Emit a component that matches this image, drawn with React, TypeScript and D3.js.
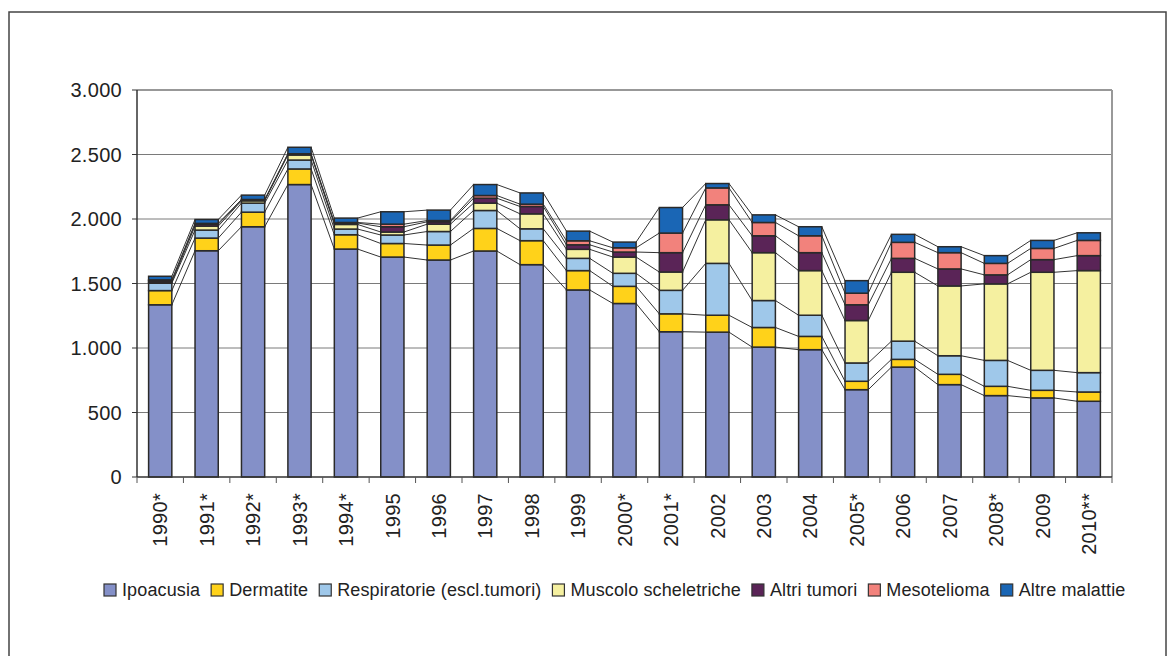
import React, { useEffect, useRef } from 'react'
import * as d3 from 'd3'

const years = [
  '1990*', '1991*', '1992*', '1993*', '1994*', '1995', '1996', '1997', '1998', '1999', '2000*',
  '2001*', '2002', '2003', '2004', '2005*', '2006', '2007', '2008*', '2009', '2010**',
]

const seriesNames = [
  'Ipoacusia',
  'Dermatite',
  'Respiratorie (escl.tumori)',
  'Muscolo scheletriche',
  'Altri tumori',
  'Mesotelioma',
  'Altre malattie',
]

const seriesColors = ['#8490c8', '#ffd21a', '#9fc8ea', '#f5f0a0', '#5a2457', '#f2827c', '#1a66b5']

const ipoacusia = [1335, 1754, 1940, 2267, 1767, 1705, 1682, 1752, 1646, 1450, 1345, 1126, 1123, 1007, 987, 677, 852, 716, 631, 613, 587]
const dermatite = [110, 98, 113, 121, 111, 105, 116, 175, 186, 150, 133, 139, 131, 152, 103, 65, 60, 80, 72, 59, 72]
const respiratorie = [57, 62, 70, 69, 44, 66, 105, 139, 92, 95, 101, 182, 402, 209, 164, 142, 141, 144, 201, 155, 150]
const muscolo = [8, 31, 18, 39, 36, 23, 57, 57, 116, 70, 126, 142, 338, 371, 346, 329, 534, 541, 593, 760, 791]
const altriTumori = [12, 14, 6, 6, 11, 41, 18, 38, 57, 35, 39, 150, 116, 131, 139, 122, 108, 132, 70, 98, 116]
const mesotelioma = [6, 7, 4, 4, 4, 20, 10, 21, 18, 31, 33, 152, 131, 103, 131, 90, 124, 126, 89, 87, 118]
const altreMalattie = [28, 30, 34, 50, 34, 96, 81, 85, 87, 75, 44, 198, 34, 59, 70, 97, 62, 46, 60, 62, 59]

const yTicks = [0, 500, 1000, 1500, 2000, 2500, 3000]

const FONT = '"Liberation Sans", Arial, sans-serif'

const App = () => {
  const refSvg = useRef(null)

  useEffect(() => {
    const left = 137
    const right = 1112
    const top = 90
    const bottom = 477

    const svg = d3.select(refSvg.current)
    svg.selectAll('*').remove()

    // outer frame
    svg
      .append('rect')
      .attr('x', 9)
      .attr('y', 12)
      .attr('width', 1157)
      .attr('height', 700)
      .attr('fill', 'white')
      .attr('stroke', '#444')
      .attr('stroke-width', 1.5)

    const cols = [ipoacusia, dermatite, respiratorie, muscolo, altriTumori, mesotelioma, altreMalattie]
    const table = years.map((y, i) => {
      const row: any = { year: y }
      seriesNames.forEach((s, k) => (row[s] = cols[k][i]))
      return row
    })
    const stacked = d3.stack().keys(seriesNames)(table)

    const x = d3.scaleBand().domain(years).range([left, right]).paddingInner(0.5).paddingOuter(0.25)
    const y = d3.scaleLinear().domain([0, 3000]).range([bottom, top])
    const fmt = d3.formatLocale({ decimal: ',', thousands: '.', grouping: [3], currency: ['', ''] }).format(',')

    // gridlines
    svg
      .append('g')
      .selectAll('line')
      .data(yTicks.filter((t) => t > 0 && t < 3000))
      .enter()
      .append('line')
      .attr('x1', left)
      .attr('x2', right)
      .attr('y1', (d) => y(d))
      .attr('y2', (d) => y(d))
      .attr('stroke', '#7a7a7a')
      .attr('stroke-width', 1)

    // plot border (top dark, right gray)
    svg
      .append('line')
      .attr('x1', left)
      .attr('x2', right)
      .attr('y1', y(3000))
      .attr('y2', y(3000))
      .attr('stroke', '#333')
      .attr('stroke-width', 1.2)
    svg
      .append('line')
      .attr('x1', right)
      .attr('x2', right)
      .attr('y1', top)
      .attr('y2', bottom)
      .attr('stroke', '#999')
      .attr('stroke-width', 2)

    // connector lines between bars
    const conn = svg.append('g')
    stacked.forEach((layer) => {
      for (let i = 0; i < years.length - 1; i++) {
        conn
          .append('line')
          .attr('x1', x(years[i]) + x.bandwidth())
          .attr('x2', x(years[i + 1]))
          .attr('y1', y(layer[i][1]))
          .attr('y2', y(layer[i + 1][1]))
          .attr('stroke', '#333')
          .attr('stroke-width', 1)
      }
    })

    // bars
    const g = svg
      .append('g')
      .selectAll('g')
      .data(stacked)
      .enter()
      .append('g')
      .attr('fill', (d, i) => seriesColors[i])
    g.selectAll('rect')
      .data((d) => d)
      .enter()
      .append('rect')
      .attr('x', (d) => x(d.data.year))
      .attr('width', x.bandwidth())
      .attr('y', (d) => y(d[1]))
      .attr('height', (d) => y(d[0]) - y(d[1]))
      .attr('stroke', '#2a2a2a')
      .attr('stroke-width', 1.5)

    // y axis
    svg
      .append('line')
      .attr('x1', left)
      .attr('x2', left)
      .attr('y1', top)
      .attr('y2', bottom)
      .attr('stroke', '#333')
      .attr('stroke-width', 1.5)
    const yt = svg.append('g').selectAll('g').data(yTicks).enter().append('g')
    yt.append('line')
      .attr('x1', left - 5)
      .attr('x2', left)
      .attr('y1', (d) => y(d))
      .attr('y2', (d) => y(d))
      .attr('stroke', '#333')
    yt.append('text')
      .attr('x', 122)
      .attr('y', (d) => y(d))
      .attr('dy', '0.36em')
      .attr('text-anchor', 'end')
      .style('font-family', FONT)
      .style('font-size', '20px')
      .style('letter-spacing', '0.3px')
      .attr('fill', '#222')
      .text((d) => fmt(d))

    // x axis
    svg
      .append('line')
      .attr('x1', left)
      .attr('x2', right)
      .attr('y1', bottom)
      .attr('y2', bottom)
      .attr('stroke', '#333')
      .attr('stroke-width', 1.5)
    const step = x.step()
    svg
      .append('g')
      .selectAll('line')
      .data(d3.range(years.length + 1))
      .enter()
      .append('line')
      .attr('x1', (i) => left + i * step)
      .attr('x2', (i) => left + i * step)
      .attr('y1', bottom)
      .attr('y2', bottom + 6)
      .attr('stroke', '#555')
    svg
      .append('g')
      .selectAll('text')
      .data(years)
      .enter()
      .append('text')
      .attr('transform', (d) => `translate(${x(d) + x.bandwidth() / 2},493) rotate(-90)`)
      .attr('dy', '0.36em')
      .attr('text-anchor', 'end')
      .style('font-family', FONT)
      .style('font-size', '20px')
      .style('letter-spacing', '0.3px')
      .attr('fill', '#222')
      .text((d) => d)

    // legend
    const legend = svg.append('g')
    let lx = 104
    const ly = 590
    seriesNames.forEach((name, i) => {
      legend
        .append('rect')
        .attr('x', lx)
        .attr('y', ly - 6)
        .attr('width', 12)
        .attr('height', 12)
        .attr('fill', seriesColors[i])
        .attr('stroke', '#333')
        .attr('stroke-width', 1.2)
      const t = legend
        .append('text')
        .attr('x', lx + 18)
        .attr('y', ly)
        .attr('dy', '0.35em')
        .style('font-family', FONT)
        .style('font-size', '18px')
        .style('letter-spacing', '0.12px')
        .attr('fill', '#222')
        .text(name)
      const w = (t.node() as SVGTextElement).getComputedTextLength()
      lx += 18 + w + 11
    })
  }, [])

  return (
    <svg
      ref={refSvg}
      width={1170}
      height={656}
      style={{ position: 'absolute', left: 0, top: 0, background: 'white' }}
    ></svg>
  )
}

export default App
